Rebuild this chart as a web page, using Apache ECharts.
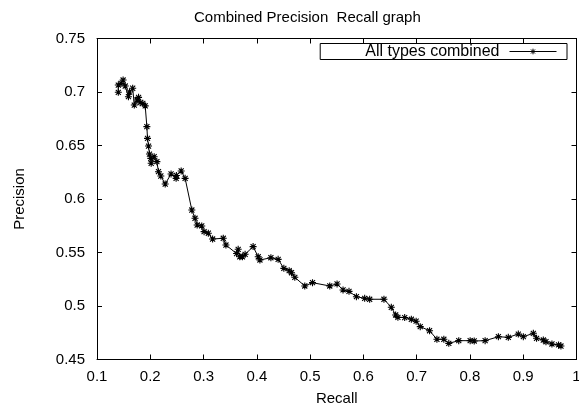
<!DOCTYPE html>
<html>
<head>
<meta charset="utf-8">
<script src="https://cdn.jsdelivr.net/npm/echarts@6/dist/echarts.min.js"></script>
<style>html,body{margin:0;padding:0;background:#fff}#c{width:579px;height:413px}</style>
</head>
<body>
<div id="c"></div>
<script>
var recall = [0.140,0.140,0.145,0.149,0.153,0.159,0.161,0.167,0.170,0.175,0.178,0.181,0.186,0.1905,0.1936,0.1948,0.1967,0.1985,0.201,0.2017,0.2073,0.2124,0.2154,0.2198,0.228,0.239,0.2485,0.249,0.258,0.2654,0.278,0.284,0.288,0.2966,0.301,0.309,0.317,0.337,0.342,0.362,0.365,0.368,0.373,0.378,0.393,0.4026,0.4058,0.4264,0.440,0.4507,0.4607,0.4651,0.4713,0.490,0.5045,0.5369,0.5506,0.5618,0.573,0.5869,0.6024,0.6118,0.6386,0.6524,0.6605,0.6648,0.6775,0.690,0.699,0.7067,0.7242,0.738,0.751,0.7603,0.779,0.8004,0.808,0.8285,0.8534,0.872,0.8908,0.9002,0.919,0.925,0.9377,0.9427,0.9539,0.9663,0.9708];
var precision = [0.6997,0.7065,0.708,0.7112,0.7056,0.6956,0.700,0.7035,0.6878,0.6925,0.695,0.690,0.6894,0.687,0.6676,0.6567,0.6495,0.642,0.638,0.6334,0.6395,0.6349,0.6255,0.6215,0.614,0.6234,0.6193,0.622,0.6262,0.6193,0.5897,0.582,0.5757,0.5748,0.5695,0.568,0.5626,0.5633,0.557,0.549,0.553,0.546,0.546,0.5483,0.5555,0.546,0.543,0.5451,0.5436,0.5352,0.533,0.5311,0.5268,0.5187,0.5218,0.5187,0.5206,0.5150,0.5137,0.5087,0.5072,0.5063,0.5063,0.4988,0.4916,0.4894,0.4892,0.4876,0.4858,0.4807,0.4769,0.4689,0.4689,0.4651,0.4676,0.4676,0.4673,0.4676,0.4713,0.4707,0.4738,0.4713,0.4745,0.4698,0.4682,0.4666,0.4645,0.4636,0.4626];
var seriesName = 'All types combined';
var titleText = 'Combined Precision  Recall graph';

var points = recall.map(function (r, i) { return [r, precision[i]]; });
var font = 'Liberation Sans, Arial, sans-serif';
var star = 'path://M0,-1L0,1M-1,0L1,0M-0.72,-0.72L0.72,0.72M-0.72,0.72L0.72,-0.72';

function axisBase(extra) {
  var o = {
    type: 'value',
    axisLine: { show: true, lineStyle: { color: '#000', width: 1 } },
    axisTick: { show: true, inside: true, length: 5, lineStyle: { color: '#000', width: 1 } },
    splitLine: { show: false },
    axisLabel: { show: false }
  };
  for (var k in extra) o[k] = extra[k];
  return o;
}

var chart = echarts.init(document.getElementById('c'), null, { renderer: 'canvas' });
chart.setOption({
  animation: false,
  backgroundColor: '#fff',
  title: {
    text: titleText, left: 189, top: 5,
    textStyle: { fontFamily: font, fontSize: 15, fontWeight: 'normal', color: '#000' }
  },
  legend: {
    show: true, right: 12, top: 43.5, align: 'right',
    orient: 'horizontal',
    borderColor: '#000', borderWidth: 1, borderRadius: 0,
    padding: [0, 10, 0, 45],
    itemWidth: 47, itemHeight: 7,
    itemStyle: { color: '#000', borderColor: '#000', borderWidth: 1 },
    lineStyle: { color: '#000', width: 1 },
    textStyle: { fontFamily: font, fontSize: 16, color: '#000', padding: [0, 5, 0, 0], lineHeight: 16 },
    data: [seriesName]
  },
  grid: { left: 97, right: 2.5, top: 38.5, bottom: 53.5, containLabel: false, outerBoundsMode: 'none' },
  xAxis: [
    axisBase({
      min: 0.1, max: 1, interval: 0.1, position: 'bottom',
      name: 'Recall', nameLocation: 'middle', nameGap: 32,
      nameTextStyle: { fontFamily: font, fontSize: 15, color: '#000' },
      axisLabel: { show: true, margin: 10, fontFamily: font, fontSize: 15, color: '#000' }
    }),
    axisBase({ min: 0.1, max: 1, interval: 0.1, position: 'top' })
  ],
  yAxis: [
    axisBase({
      min: 0.45, max: 0.75, interval: 0.05, position: 'left',
      name: 'Precision', nameLocation: 'middle', nameGap: 70, nameRotate: 90,
      nameTextStyle: { fontFamily: font, fontSize: 15, color: '#000' },
      axisLabel: { show: true, margin: 12, fontFamily: font, fontSize: 15, color: '#000' }
    }),
    axisBase({ min: 0.45, max: 0.75, interval: 0.05, position: 'right' })
  ],
  series: [{
    name: seriesName,
    type: 'line',
    data: points,
    symbol: star,
    symbolSize: 7,
    showAllSymbol: true,
    lineStyle: { color: '#000', width: 1 },
    itemStyle: { color: '#000', borderColor: '#000', borderWidth: 1.1 },
    emphasis: { disabled: true }
  }]
});
</script>
</body>
</html>
